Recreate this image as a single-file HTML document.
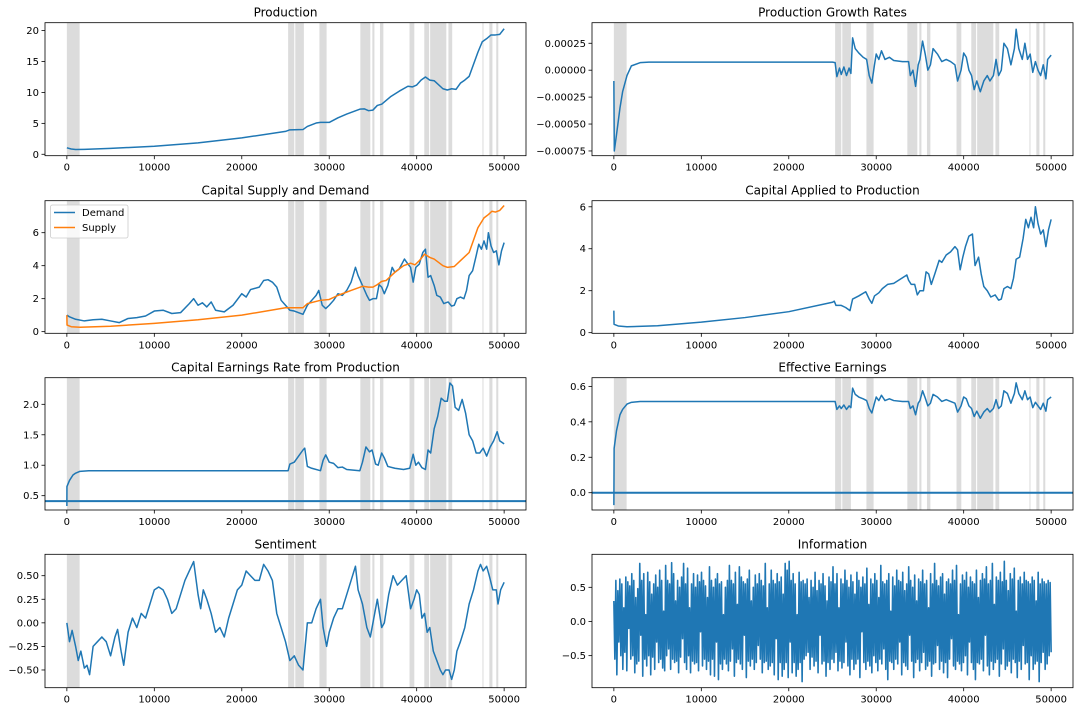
<!DOCTYPE html>
<html><head><meta charset="utf-8"><style>
body{margin:0;background:#fff;}
svg{display:block;font-family:"DejaVu Sans","Liberation Sans",sans-serif;}
</style></head><body>
<svg id="fig" width="1079" height="712" viewBox="0 0 1079 712" xmlns="http://www.w3.org/2000/svg"></svg>
<script>
const xTicks=[0,10000,20000,30000,40000,50000];
const bandStarts=[0,25300,26120,28880,33560,34930,35800,39180,40870,41540,43630,47520,48310,49100];
const bandEnds=[1460,26000,27100,29700,34700,35170,36190,39730,41420,43390,44060,47640,48660,49330];

const prodX=[0,500,1000,2000,5000,10000,15000,20000,25000,25500,27000,27500,28500,29000,30000,31000,32000,33500,34000,34500,35000,35500,36000,37000,38000,39000,39500,40000,40500,41000,41500,42000,43000,43500,44000,44500,45000,45500,46000,47000,47500,48000,48500,49000,49500,50000];
const prodY=[1.05,0.85,0.78,0.8,0.95,1.3,1.85,2.65,3.7,3.95,4.0,4.5,5.05,5.15,5.15,5.9,6.5,7.3,7.35,7.05,7.15,7.9,8.1,9.3,10.2,11.0,10.9,11.2,12.0,12.5,12.0,11.9,10.6,10.4,10.6,10.5,11.5,12.0,12.6,16.5,18.2,18.7,19.3,19.3,19.4,20.3];

const growX=[0,50,300,700,1000,1500,2000,3000,4000,25000,25300,25500,25800,26000,26300,26600,26900,27100,27300,27600,28000,28500,28900,29200,29500,29800,30000,30300,30600,31000,31500,32000,33000,33700,33900,34200,34500,34800,35000,35300,35600,35900,36200,36500,37000,37500,38000,38500,39000,39300,39700,40000,40300,40600,40900,41200,41500,41900,42300,42700,43000,43400,43700,44000,44300,44600,45000,45400,45800,46000,46300,46700,47000,47300,47600,47900,48200,48500,48800,49100,49400,49600,50000];
const growY=[-0.0001,-0.00075,-0.0006,-0.00035,-0.0002,-0.00005,0.00004,0.00007,0.000075,0.000075,0.00007,-0.00006,0.00002,-0.00004,0.00003,-0.00005,0.00002,-0.00003,0.0003,0.0002,0.00016,0.00012,0.0001,-0.00005,-0.00012,0.00005,0.00015,0.0001,0.00018,0.0001,0.00012,0.00009,0.00008,0.00008,-0.00005,0.0,-0.00015,0.00005,0.0001,0.00027,0.00015,0.0,0.00005,0.0002,0.00015,0.00008,0.0001,0.00008,0.00005,-0.0001,0.0,0.00016,0.00012,0.0,-0.00005,-0.00018,-0.0001,-0.0002,-0.0001,-0.00005,-0.0001,-0.00005,0.0001,-0.00005,0.0,0.00025,0.0002,0.00005,0.0002,0.00038,0.0002,0.0001,0.00025,0.0001,0.00015,-0.00002,0.00008,0.0,-0.00005,0.00005,-0.00008,0.0001,0.00014];

const demX=[0,300,1000,2000,3000,4000,5000,6000,7000,8000,9000,10000,11000,12000,13000,14000,14500,15000,15500,16000,16500,17000,18000,19000,20000,20500,21000,22000,22500,23000,23500,24000,24500,25000,25500,26000,27000,27500,28000,28500,28800,29200,29600,30000,30500,31000,31500,32000,32500,33000,33300,33800,34300,34600,35000,35400,35700,36000,36300,36700,37200,37500,38000,38600,39000,39300,39600,39900,40300,40700,41000,41300,41600,42000,42300,42700,43100,43600,44000,44300,44600,45000,45400,45700,46000,46400,46800,47100,47400,47700,48000,48200,48500,48800,49100,49400,49700,50000];
const demY=[1.0,0.9,0.75,0.65,0.72,0.75,0.65,0.55,0.8,0.85,0.95,1.25,1.3,1.1,1.15,1.7,2.0,1.6,1.75,1.5,1.8,1.3,1.2,1.6,2.3,2.1,2.55,2.7,3.1,3.15,3.0,2.7,1.9,1.6,1.3,1.25,1.05,1.6,1.9,2.2,2.5,1.6,1.4,1.6,1.9,2.3,2.2,2.5,3.0,3.9,3.4,2.8,2.2,1.9,2.0,2.0,2.85,2.7,2.3,2.8,3.9,3.6,3.8,4.4,4.1,3.9,3.0,3.9,4.1,4.8,5.0,3.3,3.4,2.8,2.2,2.1,1.7,1.8,1.55,1.6,2.0,2.1,2.0,2.5,3.4,3.7,4.6,5.3,5.0,5.5,5.0,6.0,5.2,4.8,4.9,4.05,4.9,5.4];
const supX=[0,20,500,1500,5000,10000,15000,20000,25000,27000,27500,29000,30000,31000,32500,33800,34500,35000,35500,36000,36500,37500,38500,39300,39800,40300,40900,41500,42000,43000,43500,44300,45000,46000,47000,47700,48200,48600,49000,49500,50000];
const supY=[1.0,0.4,0.3,0.27,0.33,0.5,0.72,1.0,1.45,1.45,1.7,1.9,1.95,2.2,2.5,2.75,2.7,2.7,2.85,3.05,3.1,3.6,4.0,4.15,4.05,4.3,4.7,4.5,4.4,4.0,3.9,3.95,4.3,4.8,6.3,6.9,7.1,7.3,7.25,7.35,7.65];

const appX=[0,20,500,1500,5000,10000,15000,20000,25000,25200,25400,26000,26500,27000,27300,28000,28800,29200,29500,29800,30300,30700,31300,32000,33500,33700,34000,34400,34700,35000,35400,35700,36000,36300,36700,37200,37500,38000,38500,39000,39300,39600,39900,40200,40600,41000,41300,41700,42000,42300,42700,43100,43600,44000,44300,44600,45000,45400,45700,46000,46400,46800,47100,47400,47700,48000,48200,48500,48800,49100,49400,49700,50000];
const appY=[1.05,0.4,0.32,0.28,0.33,0.5,0.72,1.0,1.45,1.5,1.3,1.3,1.2,1.05,1.6,1.75,1.95,1.6,1.4,1.75,1.9,2.1,2.3,2.35,2.75,2.5,2.3,2.3,1.8,2.0,2.0,2.9,2.8,2.3,2.8,3.45,3.35,3.7,3.85,4.1,3.95,3.0,3.6,4.1,4.6,4.7,3.2,3.6,2.8,2.2,2.0,1.7,1.8,1.55,1.6,2.1,2.2,2.1,2.6,3.5,3.6,4.5,5.4,5.0,5.5,5.0,6.0,5.2,4.7,4.9,4.1,4.9,5.4];

const cerX=[0,10,300,700,1000,1500,2500,25300,25500,26000,26500,27000,27200,27500,28000,29000,29300,29600,30000,30500,31000,31500,32000,33500,33800,34200,34600,34900,35300,35600,36000,36300,36700,37500,38500,39200,39600,39900,40200,40600,41000,41300,41600,42000,42400,42800,43200,43500,43800,44100,44400,44800,45200,45600,46000,46400,46800,47200,47600,48000,48400,48800,49200,49500,50000];
const cerY=[0.33,0.65,0.75,0.84,0.87,0.9,0.91,0.91,1.02,1.05,1.15,1.25,1.28,0.98,0.95,0.91,1.08,1.17,1.05,1.03,0.96,0.97,0.93,0.91,1.05,1.3,1.22,1.25,1.02,1.0,1.2,1.12,0.98,0.95,0.93,0.95,1.18,1.0,1.05,0.96,0.93,1.25,1.2,1.6,1.8,2.1,2.05,2.05,2.35,2.3,1.95,1.9,2.08,1.85,1.5,1.4,1.2,1.2,1.28,1.15,1.3,1.4,1.55,1.4,1.35];
const cerLevel=[0.41];

const effX=[0,30,300,700,1000,1500,2000,3000,25000,25300,25500,25800,26000,26300,26600,26900,27100,27300,27600,28000,28500,28900,29200,29500,29800,30000,30300,30600,31000,31500,32000,33000,33700,33900,34200,34500,34800,35000,35300,35600,35900,36200,36500,37000,37500,38000,38500,39000,39300,39700,40000,40300,40600,40900,41200,41500,41900,42300,42700,43000,43400,43700,44000,44300,44600,45000,45400,45800,46000,46300,46700,47000,47300,47600,47900,48200,48500,48800,49100,49400,49600,50000];
const effY=[-0.07,0.25,0.35,0.44,0.47,0.5,0.51,0.515,0.515,0.515,0.47,0.49,0.475,0.495,0.47,0.49,0.48,0.59,0.555,0.54,0.53,0.52,0.475,0.45,0.505,0.54,0.52,0.55,0.52,0.53,0.52,0.515,0.515,0.475,0.49,0.44,0.505,0.52,0.575,0.535,0.49,0.505,0.555,0.54,0.515,0.525,0.515,0.505,0.455,0.49,0.54,0.53,0.49,0.475,0.43,0.46,0.42,0.455,0.475,0.455,0.475,0.525,0.475,0.49,0.575,0.56,0.505,0.56,0.62,0.56,0.525,0.575,0.525,0.54,0.48,0.51,0.49,0.47,0.505,0.46,0.525,0.54];
const effLevel=[0.0];

const senX=[0,300,600,1000,1300,1600,2000,2300,2600,3000,3500,4000,4500,5000,5500,5800,6200,6500,7000,7500,8000,8500,9000,9500,10000,10500,11000,11500,12000,12500,13000,13500,14000,14500,15000,15300,15600,16000,16500,17000,17500,18000,18500,19000,19500,20000,20500,21000,21500,22000,22500,23000,23500,24000,24500,25000,25500,26000,26500,27000,27300,27500,28000,28500,29000,29300,29700,30000,30500,31000,31500,32000,32500,33000,33300,33800,34300,34700,35200,35500,36000,36300,36800,37300,37800,38300,38800,39300,39700,40000,40300,40600,40900,41200,41500,41900,42300,42700,43000,43300,43700,44000,44300,44600,45000,45500,46000,46500,47000,47300,47600,48000,48300,48700,49100,49300,49600,50000];
const senY=[0.0,-0.2,-0.08,-0.25,-0.4,-0.3,-0.48,-0.45,-0.55,-0.25,-0.2,-0.15,-0.2,-0.35,-0.15,-0.07,-0.3,-0.45,-0.1,0.05,-0.05,0.1,0.05,0.2,0.35,0.38,0.35,0.25,0.1,0.15,0.3,0.45,0.55,0.65,0.3,0.15,0.35,0.25,0.1,-0.1,-0.05,-0.15,0.05,0.2,0.35,0.4,0.55,0.5,0.45,0.45,0.62,0.55,0.45,0.1,-0.05,-0.2,-0.4,-0.35,-0.45,-0.5,-0.2,0.0,0.0,0.15,0.25,-0.05,-0.25,-0.1,0.05,0.15,0.15,0.3,0.45,0.6,0.35,0.2,-0.05,-0.15,0.1,0.25,-0.05,0.0,0.3,0.5,0.4,0.45,0.5,0.15,0.25,0.35,0.3,0.05,0.1,-0.1,-0.05,-0.3,-0.4,-0.5,-0.55,-0.5,-0.5,-0.6,-0.5,-0.3,-0.2,-0.05,0.2,0.35,0.55,0.62,0.55,0.6,0.5,0.35,0.35,0.2,0.35,0.43];

const infoY=[
0.3,-0.55,0.6,-0.78,0.45,-0.3,0.62,-0.5,0.55,-0.7,0.2,-0.45,0.65,-0.72,0.58,-0.1,0.52,-0.55,0.7,-0.5,
0.6,-0.75,0.35,-0.62,0.48,-0.58,0.85,-0.2,0.6,-0.8,0.7,-0.55,0.1,-0.65,0.72,-0.5,0.58,-0.78,0.4,-0.52,
0.55,-0.7,0.68,-0.3,0.5,-0.6,0.75,-0.55,0.6,-0.68,0.15,-0.72,0.82,-0.5,0.6,-0.4,0.55,-0.7,0.86,-0.55,
0.7,-0.6,0.3,-0.58,0.6,-0.75,0.5,-0.52,0.65,-0.25,0.85,-0.6,0.55,-0.7,0.78,-0.5,0.2,-0.75,0.55,-0.58,
0.7,-0.62,0.5,-0.6,0.68,-0.72,0.58,-0.15,0.72,-0.65,0.6,-0.55,0.52,-0.7,0.35,-0.58,0.8,-0.78,0.6,-0.55,
0.5,-0.8,0.62,-0.3,0.7,-0.85,0.55,-0.62,0.58,-0.7,0.1,-0.55,0.5,-0.62,0.6,-0.72,0.82,-0.58,0.6,-0.4,
0.55,-0.8,0.72,-0.6,0.25,-0.55,0.8,-0.62,0.65,-0.7,0.58,-0.2,0.55,-0.82,0.62,-0.58,0.75,-0.65,0.3,-0.55,
0.5,-0.7,0.68,-0.6,0.55,-0.35,0.7,-0.55,0.6,-0.75,0.52,-0.6,0.85,-0.58,0.2,-0.7,0.55,-0.65,0.75,-0.6,
0.6,-0.78,0.55,-0.25,0.7,-0.85,0.58,-0.6,0.65,-0.8,0.4,-0.7,0.85,-0.6,0.75,-0.82,0.88,-0.3,0.6,-0.75,
0.7,-0.6,0.55,-0.8,0.1,-0.7,0.72,-0.6,0.58,-0.88,0.6,-0.55,0.55,-0.5,0.62,-0.45,0.35,-0.7,0.6,-0.52,
0.5,-0.65,0.72,-0.58,0.45,-0.75,0.6,-0.2,0.55,-0.62,0.7,-0.58,0.52,-0.8,0.3,-0.6,0.65,-0.7,0.58,-0.55,
0.8,-0.6,0.55,-0.45,0.7,-0.72,0.2,-0.58,0.62,-0.68,0.55,-0.6,0.75,-0.3,0.6,-0.65,0.5,-0.78,0.68,-0.55,
0.58,-0.7,0.4,-0.62,0.72,-0.55,0.6,-0.82,0.5,-0.15,0.65,-0.6,0.55,-0.7,0.78,-0.58,0.25,-0.65,0.62,-0.75,
0.55,-0.5,0.7,-0.6,0.6,-0.72,0.35,-0.55,0.82,-0.62,0.58,-0.4,0.55,-0.7,0.6,-0.85,0.7,-0.58,0.15,-0.6,
0.65,-0.7,0.52,-0.55,0.75,-0.62,0.6,-0.3,0.58,-0.78,0.72,-0.6,0.45,-0.65,0.55,-0.7,0.8,-0.2,0.6,-0.58,
0.5,-0.82,0.68,-0.6,0.3,-0.55,0.62,-0.72,0.58,-0.6,0.75,-0.45,0.55,-0.7,0.6,-0.65,0.2,-0.58,0.7,-0.8,
0.55,-0.62,0.85,-0.6,0.6,-0.35,0.52,-0.7,0.65,-0.58,0.7,-0.75,0.4,-0.6,0.58,-0.82,0.62,-0.55,0.55,-0.25,
0.75,-0.65,0.6,-0.7,0.82,-0.58,0.1,-0.62,0.55,-0.72,0.68,-0.6,0.6,-0.5,0.72,-0.78,0.5,-0.3,0.65,-0.6,
0.58,-0.7,0.55,-0.85,0.75,-0.6,0.35,-0.62,0.6,-0.55,0.7,-0.72,0.62,-0.2,0.8,-0.65,0.55,-0.78,0.6,-0.58,
0.85,-0.7,0.25,-0.6,0.65,-0.55,0.6,-0.8,0.72,-0.62,0.58,-0.4,0.88,-0.7,0.6,-0.65,0.45,-0.58,0.7,-0.75,
0.62,-0.55,0.78,-0.6,0.15,-0.82,0.6,-0.58,0.65,-0.7,0.55,-0.35,0.72,-0.62,0.6,-0.6,0.58,-0.85,0.55,-0.5,
0.65,-0.7,0.6,-0.62,0.3,-0.58,0.72,-0.88,0.55,-0.6,0.62,-0.45,0.58,-0.7,0.55,-0.62,0.6,-0.5,0.57,-0.45];

const svg=document.getElementById('fig');
const NS='http://www.w3.org/2000/svg';
function mk(tag,attrs,parent){const e=document.createElementNS(NS,tag);for(const k in attrs)e.setAttribute(k,attrs[k]);(parent||svg).appendChild(e);return e;}

const colL=[45,526], colR=[592,1073];
const rowT=[22.7,200.7,377.7,554.3], rowB=[155.7,333.3,510,687.7];

function panel(o){
  const g=mk('g',{});
  
  
  const [L,R]=o.col, T=rowT[o.row], B=rowB[o.row];
  const xs=v=>L+(v+2500)/55000*(R-L);
  const ys=v=>B-(v-o.ylim[0])/(o.ylim[1]-o.ylim[0])*(B-T);
  const cid='c'+o.name;
  const cp=mk('clipPath',{id:cid},g);mk('rect',{x:L,y:T,width:R-L,height:B-T},cp);
  if(o.bands){
    for(let i=0;i<bandStarts.length;i++){
      const r=mk('rect',{x:xs(bandStarts[i]),y:T,width:xs(bandEnds[i])-xs(bandStarts[i]),height:B-T,fill:'#dcdcdc'},g);
      
      
    }
  }
  (o.series||[]).forEach(s=>{
    let pts=s.x.map((xv,i)=>xs(xv).toFixed(2)+','+ys(s.y[i]).toFixed(2)).join(' ');
    const p=mk('polyline',{points:pts,fill:'none',stroke:s.color,'stroke-width':s.w||1.5,'stroke-linejoin':'round','clip-path':'url(#'+cid+')'},g);
    
    
  });
  (o.levels||[]).forEach(lv=>{
    const l=mk('line',{x1:L,x2:R,y1:ys(lv),y2:ys(lv),stroke:'#1f77b4','stroke-width':2},g);
    
    
  });
  const f=mk('rect',{x:L,y:T,width:R-L,height:B-T,fill:'none',stroke:'#000','stroke-width':0.8},g);
  
  
  xTicks.forEach(t=>{
    const X=xs(t);
    mk('line',{x1:X,x2:X,y1:B,y2:B+3.5,stroke:'#000','stroke-width':0.8},g);
    const tx=mk('text',{x:X,y:B+15,'text-anchor':'middle','font-size':10,fill:'#000'},g);
    tx.textContent=String(t);
    
    
  });
  o.yt.forEach((t,i)=>{
    const Y=ys(t);
    mk('line',{x1:L-3.5,x2:L,y1:Y,y2:Y,stroke:'#000','stroke-width':0.8},g);
    const tx=mk('text',{x:L-6,y:Y+3.5,'text-anchor':'end','font-size':10,fill:'#000'},g);
    tx.textContent=o.ytl[i];
    
    
  });
  const tt=mk('text',{x:(L+R)/2,y:T-6,'text-anchor':'middle','font-size':12,fill:'#000'},g);
  tt.textContent=o.title;
  
  
  return {xs,ys,g};
}

panel({name:'production-panel',col:colL,row:0,ylim:[-0.23,21.28],bands:true,title:'Production',
  yt:[0,5,10,15,20],ytl:['0','5','10','15','20'],
  series:[{name:'production-line',x:prodX,y:prodY,color:'#1f77b4'}]});
panel({name:'growth-rates-panel',col:colR,row:0,ylim:[-0.000794,0.000441],bands:true,title:'Production Growth Rates',
  yt:[-0.00075,-0.0005,-0.00025,0,0.00025],ytl:['\u22120.00075','\u22120.00050','\u22120.00025','0.00000','0.00025'],
  series:[{name:'growth-rate-line',x:growX,y:growY,color:'#1f77b4'}]});
panel({name:'supply-demand-panel',col:colL,row:1,ylim:[-0.1,7.94],bands:true,title:'Capital Supply and Demand',
  yt:[0,2,4,6],ytl:['0','2','4','6'],
  series:[{name:'demand-line',x:demX,y:demY,color:'#1f77b4'},{name:'supply-line',x:supX,y:supY,color:'#ff7f0e'}]});
panel({name:'capital-applied-panel',col:colR,row:1,ylim:[-0.03,6.29],bands:false,title:'Capital Applied to Production',
  yt:[0,2,4,6],ytl:['0','2','4','6'],
  series:[{name:'capital-applied-line',x:appX,y:appY,color:'#1f77b4'}]});
panel({name:'earnings-rate-panel',col:colL,row:2,ylim:[0.265,2.437],bands:true,title:'Capital Earnings Rate from Production',
  yt:[0.5,1.0,1.5,2.0],ytl:['0.5','1.0','1.5','2.0'],levels:cerLevel,
  series:[{name:'earnings-rate-line',x:cerX,y:cerY,color:'#1f77b4'}]});
panel({name:'effective-earnings-panel',col:colR,row:2,ylim:[-0.0976,0.649],bands:true,title:'Effective Earnings',
  yt:[0,0.2,0.4,0.6],ytl:['0.0','0.2','0.4','0.6'],levels:effLevel,
  series:[{name:'effective-earnings-line',x:effX,y:effY,color:'#1f77b4'}]});
panel({name:'sentiment-panel',col:colL,row:3,ylim:[-0.688,0.727],bands:true,title:'Sentiment',
  yt:[-0.5,-0.25,0,0.25,0.5],ytl:['\u22120.50','\u22120.25','0.00','0.25','0.50'],
  series:[{name:'sentiment-line',x:senX,y:senY,color:'#1f77b4'}]});
const infoX=infoY.map((v,i)=>i*50000/(infoY.length-1));
panel({name:'information-panel',col:colR,row:3,ylim:[-0.969,0.983],bands:false,title:'Information',
  yt:[-0.5,0,0.5],ytl:['\u22120.5','0.0','0.5'],
  series:[{name:'information-line',x:infoX,y:infoY,color:'#1f77b4',w:1.6}]});

// legend
const lg=mk('g',{});


mk('rect',{x:50.5,y:205,width:77.5,height:33,rx:2,fill:'#fff','fill-opacity':0.8,stroke:'#ccc','stroke-width':0.8},lg);
[['Demand','#1f77b4',212.5],['Supply','#ff7f0e',227.5]].forEach(e=>{
  const it=mk('g',{},lg);
  
  
  mk('line',{x1:54,x2:75,y1:e[2],y2:e[2],stroke:e[1],'stroke-width':1.5},it);
  const t=mk('text',{x:82,y:e[2]+3.5,'font-size':10,fill:'#000'},it);
  t.textContent=e[0];
});
</script>
</body></html>
